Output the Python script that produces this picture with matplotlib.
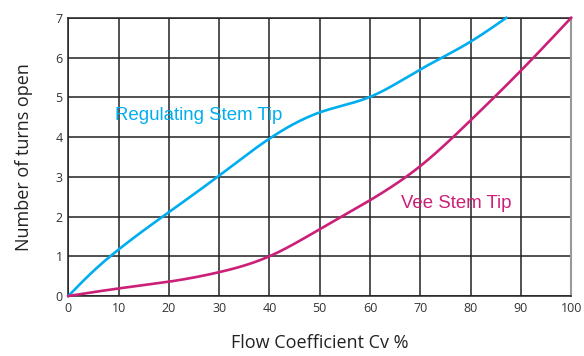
import numpy as np
import matplotlib
matplotlib.use("Agg")
import matplotlib.pyplot as plt

# Data
reg_x = [0, 5, 10, 20, 30, 40, 50, 60, 70, 80, 87.1]
reg_y = [0, 0.63, 1.17, 2.11, 3.03, 3.96, 4.62, 5.01, 5.70, 6.40, 7.0]
vee_x = [0, 10, 20, 30, 40, 50, 60, 70, 80, 90, 100]
vee_y = [0, 0.19, 0.36, 0.6, 1.0, 1.68, 2.41, 3.27, 4.42, 5.67, 7.0]
x_ticks = [0, 10, 20, 30, 40, 50, 60, 70, 80, 90, 100]
y_ticks = [0, 1, 2, 3, 4, 5, 6, 7]


def natural_spline(x, y, xn):
    x = np.asarray(x, float); y = np.asarray(y, float)
    n = len(x)
    h = np.diff(x)
    A = np.zeros((n, n)); b = np.zeros(n)
    A[0, 0] = 1; A[-1, -1] = 1
    for i in range(1, n - 1):
        A[i, i - 1] = h[i - 1]
        A[i, i] = 2 * (h[i - 1] + h[i])
        A[i, i + 1] = h[i]
        b[i] = 6 * ((y[i + 1] - y[i]) / h[i] - (y[i] - y[i - 1]) / h[i - 1])
    M = np.linalg.solve(A, b)
    idx = np.clip(np.searchsorted(x, xn) - 1, 0, n - 2)
    xi, xi1, hi = x[idx], x[idx + 1], h[idx]
    return (M[idx] * (xi1 - xn) ** 3 / (6 * hi) + M[idx + 1] * (xn - xi) ** 3 / (6 * hi)
            + (y[idx] / hi - M[idx] * hi / 6) * (xi1 - xn)
            + (y[idx + 1] / hi - M[idx + 1] * hi / 6) * (xn - xi))


fig = plt.figure(figsize=(5.84, 3.56), dpi=100)
ax = fig.add_axes([0.117, 0.1685, 0.861, 0.7815])

ax.set_xlim(0, 100)
ax.set_ylim(0, 7)
ax.set_xticks(x_ticks)
ax.set_yticks(y_ticks)
ax.grid(True, color="#222222", linewidth=1.1)
ax.set_axisbelow(True)
ax.tick_params(length=0, labelsize=9, colors="#333333", pad=4)
for lab in ax.get_xticklabels() + ax.get_yticklabels():
    lab.set_family("Open Sans")
for s in ["left", "top", "bottom"]:
    ax.spines[s].set_color("#222222")
    ax.spines[s].set_linewidth(1.1)
ax.spines["right"].set_color("#999999")
ax.spines["right"].set_linewidth(1.5)

xr = np.linspace(reg_x[0], reg_x[-1], 400)
ax.plot(xr, natural_spline(reg_x, reg_y, xr), color="#00AEEF", linewidth=1.9, clip_on=False, zorder=3)
xv = np.linspace(vee_x[0], vee_x[-1], 400)
ax.plot(xv, natural_spline(vee_x, vee_y, xv), color="#CC1F78", linewidth=1.9, clip_on=False, zorder=3)

ax.text(9.3, 4.53, "Regulating Stem Tip", color="#00AEEF", fontsize=13.4,
        family="Liberation Sans", va="center", ha="left")
ax.text(66.1, 2.33, "Vee Stem Tip", color="#CC1F78", fontsize=13.4,
        family="Liberation Sans", va="center", ha="left")

ax.set_xlabel("Flow Coefficient Cv %", family="Open Sans", fontsize=13, color="#222222", labelpad=14)
ax.set_ylabel("Number of turns open", family="Open Sans", fontsize=13, color="#222222", labelpad=16)

fig.savefig("out.png", dpi=100)
